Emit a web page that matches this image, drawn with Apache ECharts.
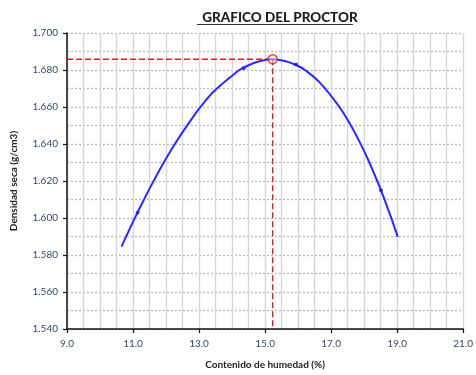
<!DOCTYPE html>
<html>
<head>
<meta charset="utf-8">
<title>Grafico del Proctor</title>
<script src="https://cdn.jsdelivr.net/npm/echarts@6/dist/echarts.min.js"></script>
<style>
  html, body { margin: 0; padding: 0; background: #fff; }
  #chart { width: 476px; height: 375px; }
</style>
</head>
<body>
<div id="chart"></div>
<script>
// Compaction curve: moisture content (%) vs dry density (g/cm3)
const curveX = [10.65, 10.78, 11.05, 11.33, 11.63, 11.97, 12.33, 12.64, 13.05, 13.50, 14.20, 14.35, 14.80, 15.23, 15.60, 15.94, 16.21, 16.66, 17.25, 17.60, 17.88, 18.13, 18.39, 18.51, 18.61, 18.83, 19.02];
const curveY = [1.5845, 1.5895, 1.5998, 1.6099, 1.6202, 1.6312, 1.6418, 1.6500, 1.6602, 1.6693, 1.6797, 1.6813, 1.6846, 1.6858, 1.6849, 1.6827, 1.6800, 1.6732, 1.6601, 1.6500, 1.6406, 1.6312, 1.6204, 1.6151, 1.6105, 1.5997, 1.5898];

// Laboratory test points
const sampleX = [11.14, 14.35, 15.94, 18.51];
const sampleY = [1.603, 1.681, 1.683, 1.615];

// Optimum moisture content and maximum dry density
const optimum = [15.23];
const maxDensity = [1.6858];

const xRange = [9, 21];
const yRange = [1.54, 1.70];

const labelFont = 'Lato, "Open Sans", sans-serif';
const labelColor = '#34486e';

const chart = echarts.init(document.getElementById('chart'), null, { renderer: 'canvas' });

const curve = curveX.map((x, i) => [x, curveY[i]]);
const samples = sampleX.map((x, i) => [x, sampleY[i]]);
const hGuide = [[xRange[0], maxDensity[0]], [optimum[0], maxDensity[0]]];
const vGuide = [[optimum[0], maxDensity[0]], [optimum[0], yRange[0]]];

chart.setOption({
  animation: false,
  backgroundColor: '#ffffff',
  title: {
    text: 'GRAFICO DEL PROCTOR',
    left: 275,
    top: 6,
    textAlign: 'center',
    textStyle: {
      fontFamily: labelFont,
      fontSize: 13.5,
      fontWeight: 900,
      color: '#1e1e1e'
    }
  },
  graphic: [{
    type: 'line',
    shape: { x1: 197, y1: 24.5, x2: 353, y2: 24.5 },
    style: { stroke: '#333333', lineWidth: 1 }
  }],
  grid: { left: 67, right: 10, top: 33, bottom: 45 },
  xAxis: {
    type: 'value',
    min: xRange[0],
    max: xRange[1],
    interval: 2,
    name: 'Contenido de humedad (%)',
    nameLocation: 'middle',
    nameGap: 31,
    nameTextStyle: { fontFamily: labelFont, fontSize: 10, fontWeight: 'bold', color: '#222222' },
    axisLine: { show: true, onZero: false, lineStyle: { color: '#111111', width: 1.5 } },
    axisTick: { show: true, inside: false, length: 4, lineStyle: { color: '#111111', width: 1.2 } },
    axisLabel: {
      margin: 10,
      fontFamily: labelFont,
      fontSize: 10,
      color: labelColor,
      formatter: v => v.toFixed(1)
    },
    splitLine: { show: true, lineStyle: { color: '#d6d6d6', width: 1.4 } },
    minorTick: { show: false, splitNumber: 4 },
    minorSplitLine: { show: true, lineStyle: { color: '#d6d6d6', width: 1.4 } }
  },
  yAxis: {
    type: 'value',
    min: yRange[0],
    max: yRange[1],
    interval: 0.02,
    name: 'Densidad seca (g/cm3)',
    nameLocation: 'middle',
    nameGap: 48,
    nameTextStyle: { fontFamily: labelFont, fontSize: 10, fontWeight: 'bold', color: '#222222' },
    axisLine: { show: true, onZero: false, lineStyle: { color: '#111111', width: 1.5 } },
    axisTick: { show: true, inside: false, length: 4, lineStyle: { color: '#111111', width: 1.2 } },
    axisLabel: {
      margin: 9,
      fontFamily: labelFont,
      fontSize: 10,
      color: labelColor,
      formatter: v => v.toFixed(3)
    },
    splitLine: { show: true, lineStyle: { color: '#b6b6b6', width: 1.3, type: [2, 2] } },
    minorTick: { show: false, splitNumber: 2 },
    minorSplitLine: { show: true, lineStyle: { color: '#b6b6b6', width: 1.3, type: [2, 2] } }
  },
  series: [
    {
      name: 'Guía horizontal',
      type: 'line',
      data: hGuide,
      symbol: 'none',
      silent: true,
      lineStyle: { color: '#e0201e', width: 1.5, type: [6, 3] },
      z: 3
    },
    {
      name: 'Guía vertical',
      type: 'line',
      data: vGuide,
      symbol: 'none',
      silent: true,
      lineStyle: { color: '#e0201e', width: 1.5, type: [6, 3] },
      z: 3
    },
    {
      name: 'Curva de compactación',
      type: 'line',
      data: curve,
      smooth: 0.4,
      symbol: 'none',
      lineStyle: { color: '#2a2aff', width: 2 },
      z: 4
    },
    {
      name: 'Ensayos',
      type: 'scatter',
      data: samples,
      symbol: 'circle',
      symbolSize: 4,
      itemStyle: { color: '#1f1fd0' },
      z: 5
    },
    {
      name: 'Óptimo',
      type: 'scatter',
      data: [[optimum[0], maxDensity[0]]],
      symbol: 'circle',
      symbolSize: 9,
      itemStyle: { color: 'rgba(255,255,255,0.5)', borderColor: '#e0201e', borderWidth: 1.6 },
      z: 6
    }
  ]
});
</script>
</body>
</html>
